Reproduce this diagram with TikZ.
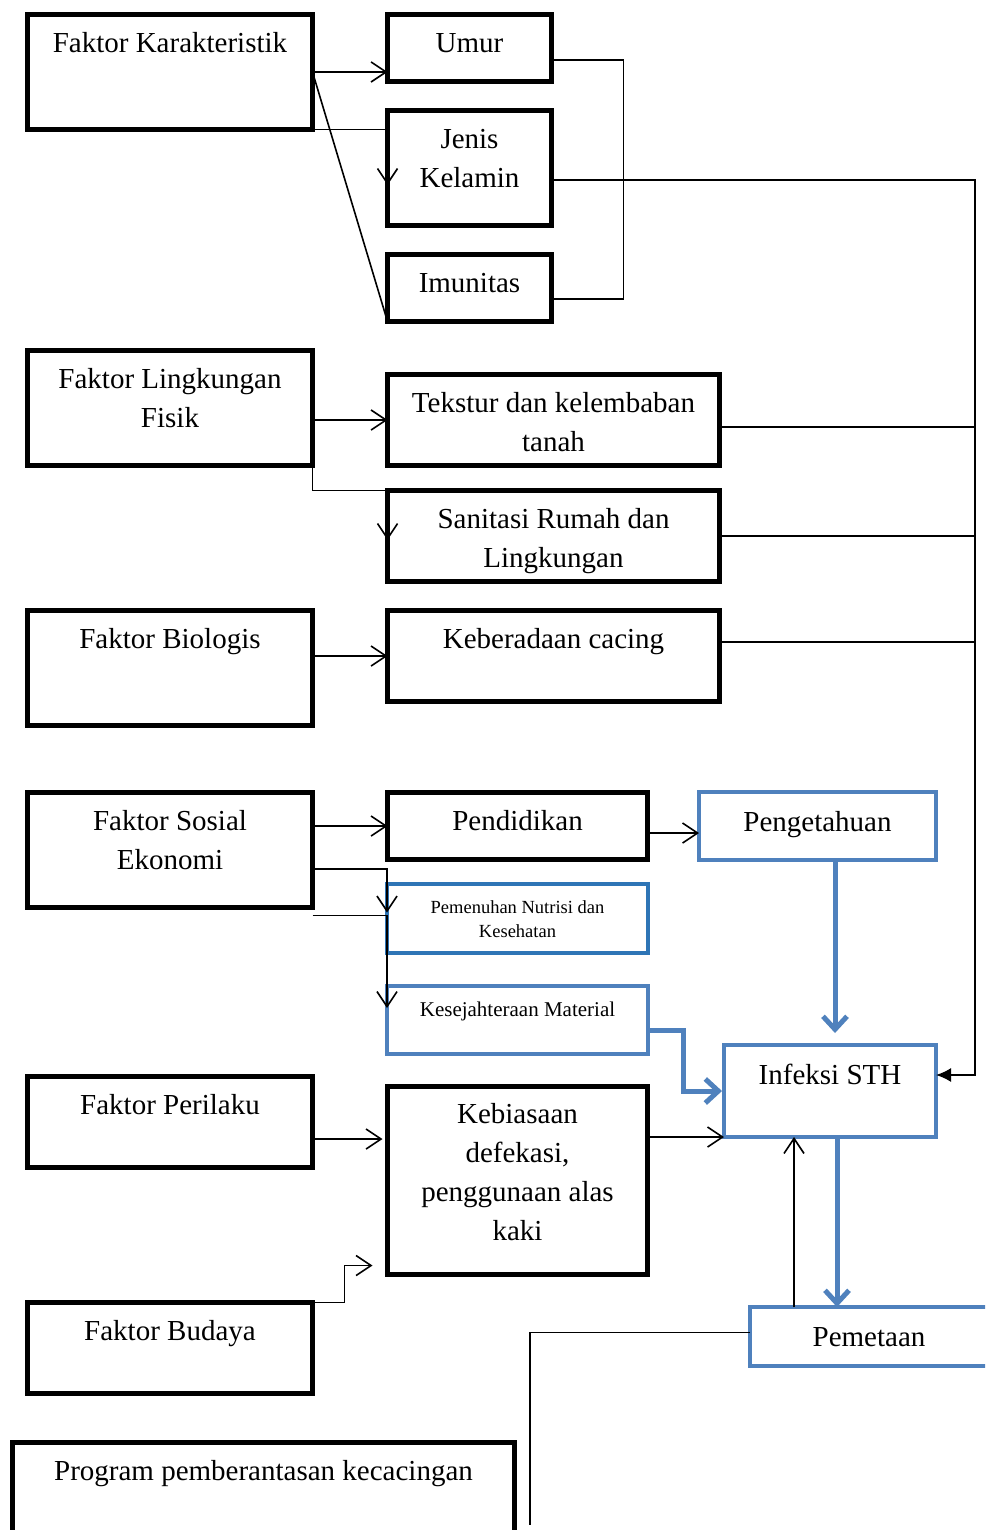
\documentclass[tikz,border=0pt]{standalone}
\usepackage{fontspec}
\setmainfont{Liberation Serif}
\usetikzlibrary{arrows.meta}

\definecolor{biru}{RGB}{79,129,189}
\definecolor{birutua}{RGB}{46,117,182}

\begin{document}
\begin{tikzpicture}[x=1pt, y=-1pt,
  font=\fontsize{29}{39}\selectfont,
  >={Straight Barb[length=15pt,width=20pt]},
  kotak/.style={draw, line width=5pt, inner sep=0pt, outer sep=0pt, align=center, anchor=north west, text height=38pt},
  kotakbiru/.style={kotak, draw=biru, line width=4pt, text height=39pt},
  garis/.style={line width=1.6pt},
  panahbiru/.style={draw=biru, line width=5pt, -{Straight Barb[length=13pt,width=24pt]}}
  ]
  \useasboundingbox (0,0) rectangle (985,1530);
  \clip (0,0) rectangle (985,1530);
  % faktor
  \node[kotak, minimum width=285pt, text depth=77pt] (kar) at (27.5,14.5) {Faktor Karakteristik};
  \node[kotak, minimum width=285pt, text height=77pt, text depth=38pt] (ling) at (27.5,350.5) {Faktor Lingkungan\\Fisik};
  \node[kotak, minimum width=285pt, text depth=77pt] (bio) at (27.5,610.5) {Faktor Biologis};
  \node[kotak, minimum width=285pt, text height=77pt, text depth=38pt] (sosek) at (27.5,792.5) {Faktor Sosial\\Ekonomi};
  \node[kotak, minimum width=285pt, text depth=53pt] (perilaku) at (27.5,1076.5) {Faktor Perilaku};
  \node[kotak, minimum width=285pt, text depth=53pt] (budaya) at (27.5,1302.5) {Faktor Budaya};
  \node[kotak, minimum width=502pt, text depth=82pt] (program) at (12.5,1442.5) {Program pemberantasan kecacingan};
  % variabel
  \node[kotak, minimum width=164pt, text depth=29pt] (umur) at (387.5,14.5) {Umur};
  \node[kotak, minimum width=164pt, text height=77pt, text depth=38pt] (jenis) at (387.5,110.5) {Jenis\\Kelamin};
  \node[kotak, minimum width=164pt, text depth=29pt] (imun) at (387.5,254.5) {Imunitas};
  \node[kotak, minimum width=332pt, text height=77pt, text depth=14pt] (tekstur) at (387.5,374.5) {Tekstur dan kelembaban\\tanah};
  \node[kotak, minimum width=332pt, text height=77pt, text depth=14pt] (sanit) at (387.5,490.5) {Sanitasi Rumah dan\\Lingkungan};
  \node[kotak, minimum width=332pt, text depth=53pt] (cacing) at (387.5,610.5) {Keberadaan cacing};
  \node[kotak, minimum width=260pt, text depth=29pt] (didik) at (387.5,792.5) {Pendidikan};
  \node[kotakbiru, draw=birutua, minimum width=261pt, text height=53pt, text depth=16pt,
    font=\fontsize{18.5}{24}\selectfont] (nutrisi) at (387,884) {Pemenuhan Nutrisi dan\\Kesehatan};
  \node[kotakbiru, minimum width=261pt, text height=30pt, text depth=38pt,
    font=\fontsize{21}{28}\selectfont] (sejahtera) at (387,986) {Kesejahteraan Material};
  \node[kotak, minimum width=260pt, text height=154pt, text depth=34pt] (biasa) at (387.5,1086.5) {Kebiasaan\\defekasi,\\penggunaan alas\\kaki};
  % kanan
  \node[kotakbiru, minimum width=237pt, text depth=29pt] (tahu) at (699,792) {Pengetahuan};
  \node[kotakbiru, minimum width=212pt, text depth=53pt] (infeksi) at (724,1045) {Infeksi STH};
  \node[kotakbiru, minimum width=238pt, text depth=20pt] (petaan) at (750,1307) {Pemetaan};
  \coordinate (rel) at (975,1075);
  \coordinate (ujung) at (530,1525);

  \path[garis, ->]
    (kar.east) edge (kar.east -| umur.west)
    (ling.east |- tekstur.west) edge (tekstur.west)
    (bio.east |- cacing.west) edge (cacing.west)
    (sosek.east |- didik.west) edge (didik.west)
    ([yshift=-7pt]didik.east) edge ([yshift=-7pt]tahu.west)
    (biasa.east |- infeksi.south west) edge (infeksi.south west)
    ([xshift=-75pt]petaan.north) edge ([xshift=-36pt]infeksi.south)
    ;
  \draw[garis, ->] (kar.south east) -| ([yshift=-17pt]jenis.west);
  \draw[garis] (kar.east) -- (imun.south west);
  \draw[garis] ([yshift=-12pt]umur.east) -- ++(72,0) |- ([yshift=-11pt]imun.east);
  \draw[garis, -{Latex[length=15pt,width=14pt]}] ([yshift=-12pt]jenis.east) -| (rel) -- ([yshift=16pt]infeksi.east);
  \draw[garis] ([yshift=-7pt]tekstur.east) -| (rel);
  \draw[garis] (sanit.east) -| (rel);
  \draw[garis] ([yshift=14pt]cacing.east) -| (rel);
  \draw[garis, ->] (ling.south east) |- (sanit.north west) -- ([yshift=-4pt]sanit.west);
  \draw[garis, ->] ([yshift=-19pt]sosek.east) -| ([yshift=6pt]nutrisi.west);
  \draw[garis, ->] ([yshift=-8pt]sosek.south east) -| ([yshift=12pt]sejahtera.west);
  \draw[garis, ->] ([yshift=-17pt]perilaku.east) -- ++(70,0);
  \draw[garis, ->] (budaya.north east) -- ++(32,0) |- ([xshift=-15pt,yshift=9pt]biasa.south west);
  \draw[garis] ([yshift=4pt]petaan.west) -| (ujung);
  % panah biru
  \draw[panahbiru] ([xshift=17.5pt]tahu.south) -- ([xshift=5pt,yshift=12pt]infeksi.north);
  \draw[panahbiru] ([yshift=-10pt]sejahtera.east) -- ++(35,0) |- ([xshift=-2pt]infeksi.west);
  \draw[panahbiru] ([xshift=7pt]infeksi.south) -- ([xshift=-32pt]petaan.north);
\end{tikzpicture}
\end{document}
